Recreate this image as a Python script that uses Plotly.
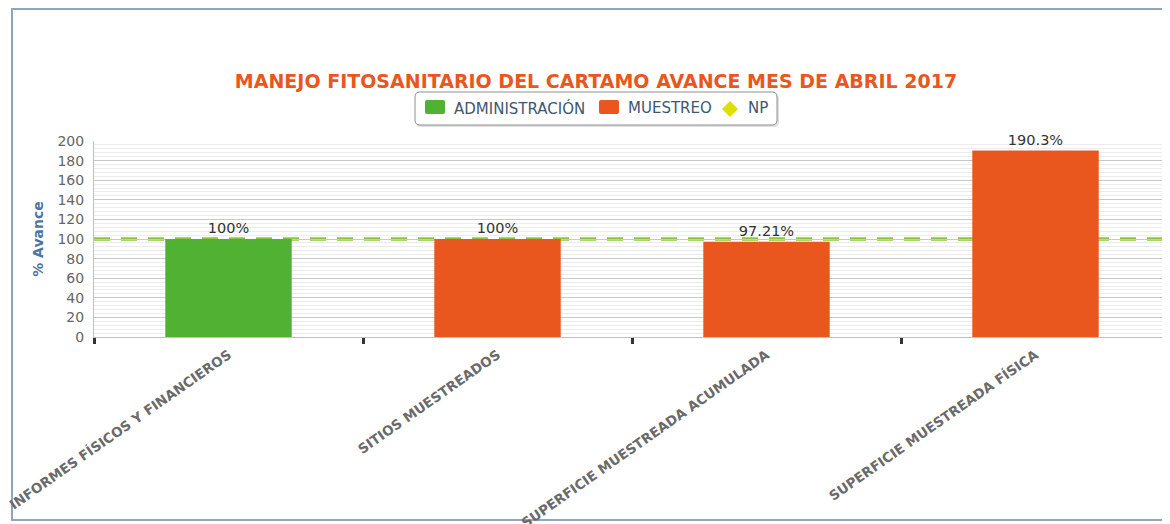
import plotly.graph_objects as go

categories = ["INFORMES FÍSICOS Y FINANCIEROS", "SITIOS MUESTREADOS",
              "SUPERFICIE MUESTREADA ACUMULADA", "SUPERFICIE MUESTREADA FÍSICA"]
admin_values = [100, None, None, None]
muestreo_values = [None, 100, 97.21, 190.3]
admin_labels = ["100%", "", "", ""]
muestreo_labels = ["", "100%", "97.21%", "190.3%"]
np_value = 100
y_ticks = list(range(0, 201, 20))
series_names = ["ADMINISTRACIÓN", "MUESTREO", "NP"]
series_colors = ["#50b132", "#e9561e", "#dede00"]

FONT = "DejaVu Sans"
# page has an 8px body margin; figure coordinates = page - 8
W, H = 1162, 516
L, R, T, B = 86, 0, 133, 187
pw, ph = W - L - R, H - T - B


def px(xp):
    """page x pixel -> paper"""
    return (xp - 8 - L) / pw


def py(yp):
    """page y pixel -> paper"""
    return (H - B - (yp - 8)) / ph


def rrect(x0, y0, x1, y1, r):
    pts = [
        ("M", x0 + r, y0), ("L", x1 - r, y0), ("Q", x1, y0, x1, y0 + r),
        ("L", x1, y1 - r), ("Q", x1, y1, x1 - r, y1), ("L", x0 + r, y1),
        ("Q", x0, y1, x0, y1 - r), ("L", x0, y0 + r), ("Q", x0, y0, x0 + r, y0),
    ]
    s = ""
    for p in pts:
        if p[0] == "Q":
            s += f"Q{px(p[1])},{py(p[2])} {px(p[3])},{py(p[4])} "
        else:
            s += f"{p[0]}{px(p[1])},{py(p[2])} "
    return s + "Z"


fig = go.Figure()
fig.add_trace(go.Bar(x=categories, y=admin_values, name=series_names[0],
                     marker=dict(color=series_colors[0], line=dict(width=0)), width=0.47,
                     text=admin_labels, textposition="outside", cliponaxis=False,
                     textfont=dict(family=FONT, size=14.5, color="#333333")))
fig.add_trace(go.Bar(x=categories, y=muestreo_values, name=series_names[1],
                     marker=dict(color=series_colors[1], line=dict(width=0)), width=0.47,
                     text=muestreo_labels, textposition="outside", cliponaxis=False,
                     textfont=dict(family=FONT, size=14.5, color="#333333")))
fig.add_trace(go.Scatter(x=[None], y=[None], name=series_names[2], mode="markers",
                         marker=dict(symbol="diamond", size=14, color=series_colors[2])))

fig.add_shape(type="line", xref="paper", yref="y", x0=0, x1=1, y0=np_value, y1=np_value,
              line=dict(color="#8cc63f", width=3.5, dash="16px,11px"), layer="between")

# outer chart frame
fig.add_shape(type="rect", xref="paper", yref="paper",
              x0=px(12), x1=px(1200), y0=py(520), y1=py(9),
              line=dict(color="#8ea6bd", width=2), fillcolor="rgba(0,0,0,0)", layer="below")

# custom legend (rounded box with shadow, rounded swatches, diamond)
fig.add_shape(type="path", xref="paper", yref="paper", path=rrect(416, 94, 779, 127, 5),
              line=dict(width=0), fillcolor="rgba(0,0,0,0.12)", layer="above")
fig.add_shape(type="path", xref="paper", yref="paper", path=rrect(415, 92, 777, 125, 5),
              line=dict(color="#909090", width=1), fillcolor="white", layer="above")
fig.add_shape(type="path", xref="paper", yref="paper", path=rrect(425, 100, 445, 114, 2),
              line=dict(width=0), fillcolor=series_colors[0], layer="above")
fig.add_shape(type="path", xref="paper", yref="paper", path=rrect(599, 100, 619, 114, 2),
              line=dict(width=0), fillcolor=series_colors[1], layer="above")
fig.add_shape(type="path", xref="paper", yref="paper",
              path=f"M{px(730)},{py(101)} L{px(738)},{py(109)} L{px(730)},{py(117)} L{px(722)},{py(109)} Z",
              line=dict(width=0), fillcolor=series_colors[2], layer="above")
for name, xl in zip(series_names, [452, 626, 746]):
    fig.add_annotation(text=name, xref="paper", yref="paper", x=px(xl), y=py(108),
                       xanchor="left", yanchor="middle", showarrow=False,
                       font=dict(family=FONT, size=15, color="#3e576f"))

fig.update_layout(
    width=W, height=H,
    margin=dict(l=L, r=R, t=T, b=B, autoexpand=False),
    paper_bgcolor="white", plot_bgcolor="white",
    barmode="overlay",
    font=dict(family=FONT),
    title=dict(text="<b>MANEJO FITOSANITARIO DEL CARTAMO AVANCE MES DE ABRIL 2017</b>",
               x=588 / W, xref="container", xanchor="center",
               y=1 - 73 / H, yref="container", yanchor="middle",
               font=dict(family=FONT, size=19, color="#e8581e")),
    showlegend=False,
)
fig.update_xaxes(type="category", tickangle=-35, tickson="boundaries",
                 ticks="outside", ticklen=6, tickwidth=3, tickcolor="#333333",
                 showgrid=False, showline=True, linecolor="#c0c0c0", linewidth=1,
                 ticklabelstandoff=4,
                 tickfont=dict(family=FONT, size=13.5, color="#6a6a6a", weight="bold"),
                 range=[-0.5, 3.5])
fig.update_yaxes(range=[0, 200], tickvals=y_ticks, showgrid=True, gridcolor="#c8c8c8",
                 gridwidth=1, zeroline=False, showline=True, linecolor="#c0c0c0",
                 minor=dict(dtick=4, showgrid=True, gridcolor="#ececec", gridwidth=1),
                 ticks="", ticklabelstandoff=6,
                 tickfont=dict(family=FONT, size=14, color="#666666"),
                 title=dict(text="<b>% Avance</b>", standoff=10,
                            font=dict(family=FONT, size=14, color="#4d759e")))

fig.write_html("out.html")
